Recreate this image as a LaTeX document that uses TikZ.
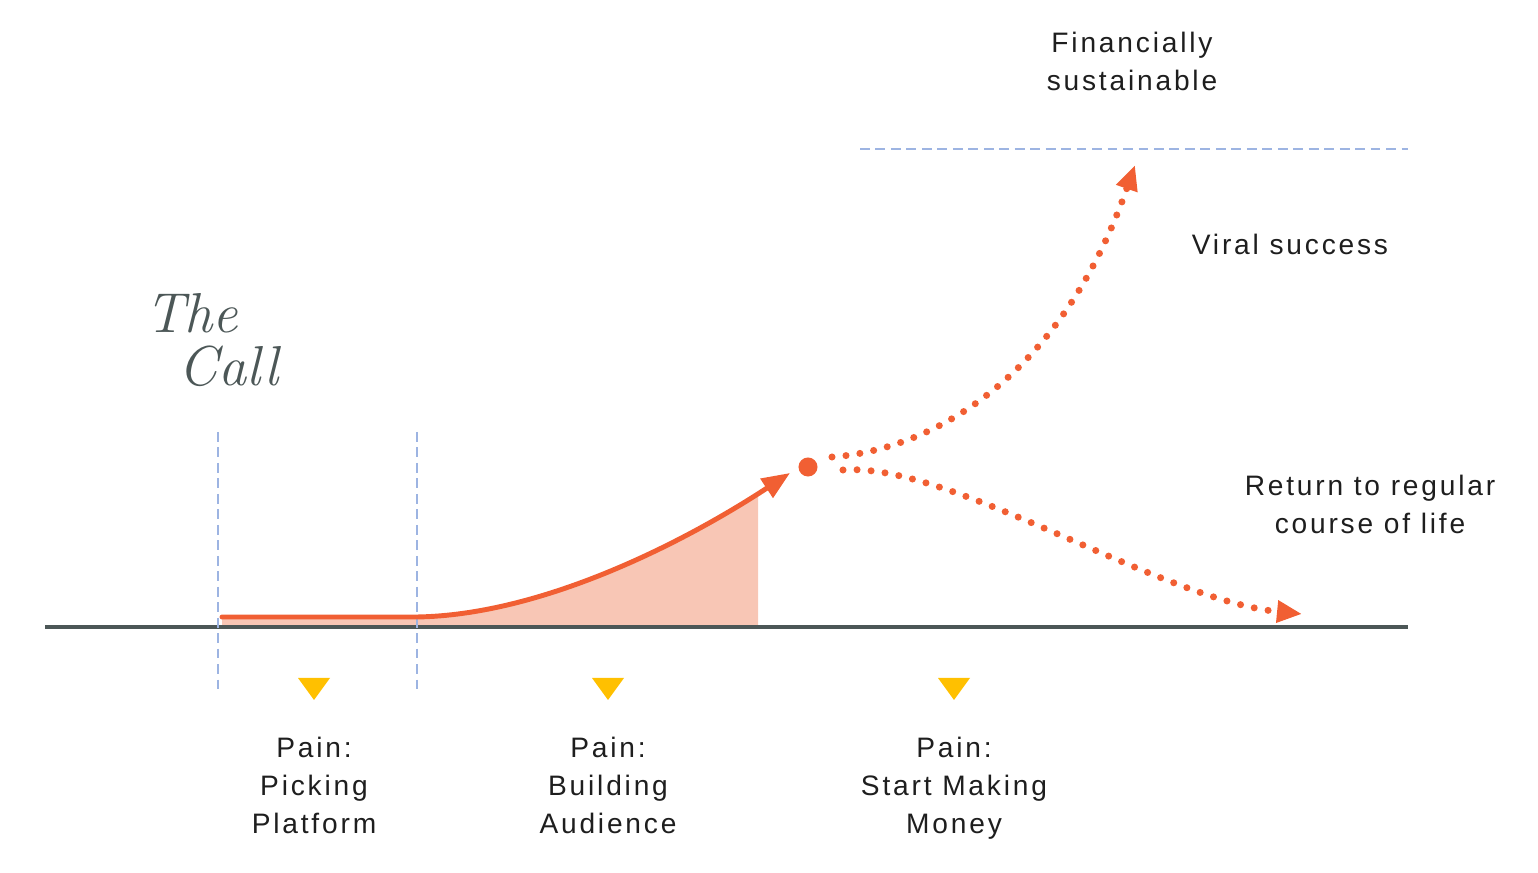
\documentclass[tikz,border=0pt]{standalone}
\usepackage{fontspec}
\setmainfont{Liberation Sans}[LetterSpace=10]
\newfontfamily\handfont{Latin Modern Roman}
\usetikzlibrary{arrows.meta}
\definecolor{flame}{HTML}{F15F33}
\definecolor{blush}{HTML}{F8C6B5}
\definecolor{slate}{HTML}{4C5757}
\definecolor{guide}{HTML}{9DB4E2}
\definecolor{amber}{HTML}{FFC000}
\definecolor{ink}{HTML}{1E1E1E}

\begin{document}
\begin{tikzpicture}[x=0.01cm,y=-0.01cm,font=\fontsize{8}{10.8}\selectfont,
    guideline/.style={draw=guide,line width=0.75pt,dash pattern=on 2.8pt off 1.6pt},
    dotpath/.style={draw=flame,line width=2pt,line cap=round,dash pattern=on 0pt off 4pt,
      -{Triangle[length=0.25cm,width=0.21cm]}},
    stagetext/.style={text=ink,align=center,inner sep=0pt}]
  \useasboundingbox (0,0) rectangle (1538,873);
  \coordinate (start) at (222,617);
  \coordinate (climb) at (417,617);
  \coordinate (peak) at (790,473);
  \coordinate (viral) at (1135,165);
  \coordinate (fade) at (1302,614);
  % area under the growth curve, cut off before the arrow
  \begin{scope}
    \clip (222,400) rectangle (758,628);
    \fill[blush] (222,627) -- (start) -- (climb) .. controls (540,615) and (680,545) .. (peak) -- (790,627) -- cycle;
  \end{scope}
  \draw[slate,line width=1pt] (45,627) -- (1408,627);
  \draw[guideline] (218,432) -- (218,692);
  \draw[guideline] (417,432) -- (417,692);
  \draw[guideline] (860,149) -- (1408,149);
  \draw[flame,line width=1.4pt,line cap=round,-{Triangle[length=0.28cm,width=0.22cm]}]
    (start) -- (climb) .. controls (540,615) and (680,545) .. (peak);
  \node[circle,fill=flame,minimum size=0.19cm,inner sep=0pt] (fork) at (808,467) {};
  \draw[dotpath] ([shift={(24,-10)}]fork.center) .. controls (930,450) and (1060,380) .. (viral);
  \draw[dotpath] ([shift={(35,3)}]fork.center) .. controls (950,462) and (1160,600) .. (fade);
  % pain points below the axis
  \foreach \x/\name/\txt in {314/pick/{Pain:\\Picking\\Platform},
      608/build/{Pain:\\Building\\Audience}, 954/money/{Pain:\\Start Making\\Money}}{
    \fill[amber] (\x-16,678) -- (\x+16,678) -- (\x,700) -- cycle;
    \node[stagetext,anchor=north] (\name) at (\x,736) {\txt};}
  \node[stagetext,anchor=north] (goal) at (1132,31) {Financially\\sustainable};
  \node[stagetext] (viraltext) at (1290,244) {Viral success};
  \node[stagetext,anchor=north] (returntext) at (1370,474) {Return to regular\\course of life};
  \node[text=slate,font=\handfont\itshape\fontsize{16}{15}\selectfont,align=left] (call) at (212,340) {The\\\hspace*{0.6em}Call};
\end{tikzpicture}
\end{document}
